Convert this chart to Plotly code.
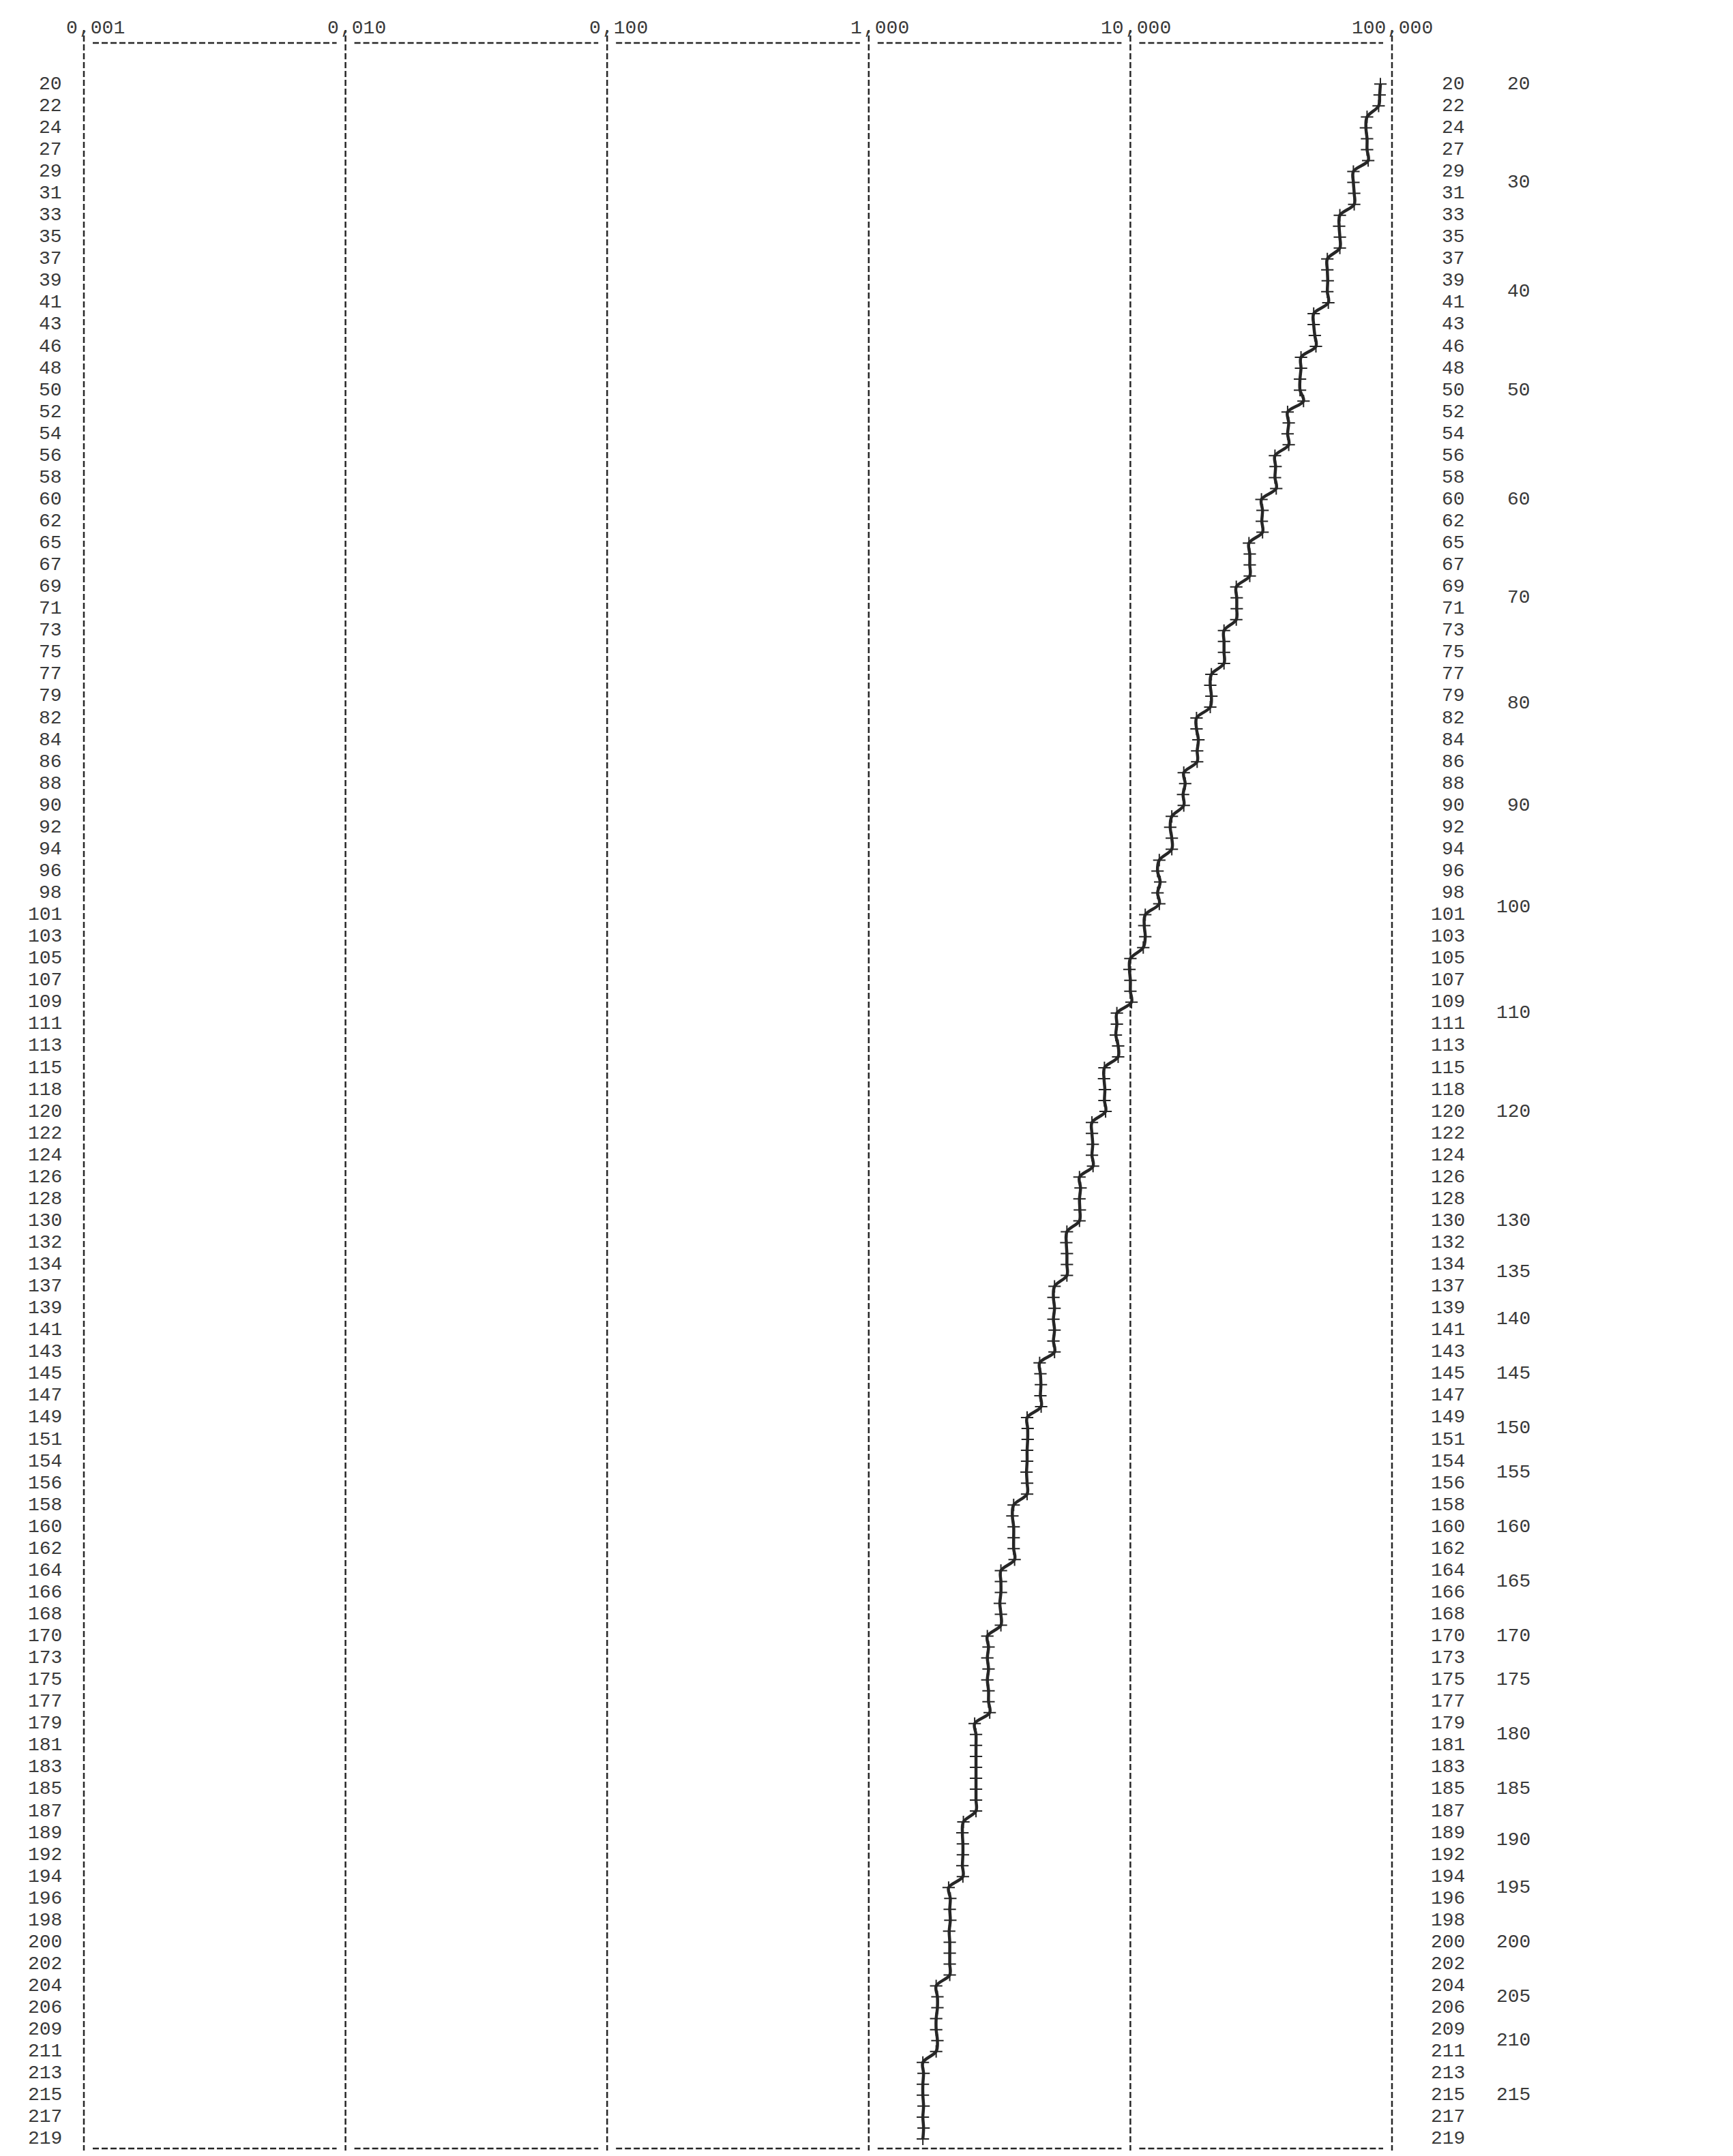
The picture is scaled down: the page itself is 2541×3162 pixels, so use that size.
import numpy as np
import plotly.graph_objects as go

# ---- data ----
row_labels = ["20","22","24","27","29","31","33","35","37","39","41","43","46","48","50",
              "52","54","56","58","60","62","65","67","69","71","73","75","77","79","82",
              "84","86","88","90","92","94","96","98","101","103","105","107","109","111",
              "113","115","118","120","122","124","126","128","130","132","134","137","139",
              "141","143","145","147","149","151","154","156","158","160","162","164","166",
              "168","170","173","175","177","179","181","183","185","187","189","192","194",
              "196","198","200","202","204","206","209","211","213","215","217","219"]

scale_labels = [20, 30, 40, 50, 60, 70, 80, 90, 100, 110, 120, 130, 135, 140, 145, 150,
                155, 160, 165, 170, 175, 180, 185, 190, 195, 200, 205, 210, 215]

x_ticks = [0.001, 0.01, 0.1, 1, 10, 100]
x_tick_left = ["0", "0", "0", "1", "10", "100"]
x_tick_right = [",001", ",010", ",100", ",000", ",000", ",000"]

values = [
    90.3, 89.7, 88.9, 80.3, 79.5, 80.3, 80.3, 81.1, 71.2, 71.2,
    71.7, 71.7, 63.2, 62.8, 63.2, 63.2, 56.6, 56.6, 56.8, 56.6,
    57.1, 50.2, 50.2, 50.7, 51.2, 44.9, 44.9, 44.5, 44.5, 45.9,
    39.9, 40.3, 39.9, 40.3, 35.7, 35.9, 35.7, 36.1, 31.7, 32.0,
    31.8, 32.0, 28.4, 28.6, 28.6, 28.6, 25.4, 25.5, 25.5, 25.4,
    22.8, 22.8, 22.8, 22.8, 20.4, 20.2, 20.4, 20.2, 17.9, 17.9,
    18.2, 18.0, 18.0, 16.0, 16.2, 15.9, 16.0, 14.4, 14.2, 14.4,
    14.4, 12.9, 12.7, 13.0, 12.7, 12.9, 11.4, 11.3, 11.4, 11.2,
    10.0, 9.92, 10.0, 10.0, 10.1, 8.88, 8.88, 8.80, 8.98, 8.98,
    7.96, 7.93, 7.99, 7.96, 8.04, 7.13, 7.13, 7.18, 7.13, 7.20,
    6.39, 6.45, 6.39, 6.41, 6.39, 5.72, 5.69, 5.72, 5.72, 5.72,
    5.13, 5.08, 5.13, 5.08, 5.13, 5.08, 5.13, 4.50, 4.53, 4.55,
    4.53, 4.56, 4.03, 4.05, 4.05, 4.03, 4.03, 4.01, 4.03, 4.03,
    3.58, 3.54, 3.58, 3.58, 3.58, 3.61, 3.20, 3.20, 3.20, 3.17,
    3.20, 3.20, 2.84, 2.87, 2.84, 2.87, 2.84, 2.87, 2.87, 2.90,
    2.54, 2.57, 2.57, 2.57, 2.57, 2.57, 2.57, 2.57, 2.57, 2.30,
    2.28, 2.29, 2.29, 2.28, 2.29, 2.02, 2.05, 2.04, 2.05, 2.03,
    2.04, 2.04, 2.04, 2.04, 1.81, 1.83, 1.83, 1.81, 1.81, 1.83,
    1.81, 1.61, 1.62, 1.61, 1.61, 1.62, 1.61, 1.62, 1.61,
]

# ---- layout constants (page body adds an 8px margin) ----
OFF = 8
W, H = 2541 - 2 * OFF, 3162 - 2 * OFF
ML, MT = 123 - OFF, 62 - OFF
PLOT_R = 2041 - OFF
PLOT_B = 3151 - OFF
MR, MB = W - PLOT_R, H - PLOT_B
PW = W - ML - MR
PH = H - MT - MB
FONT = "Liberation Mono, DejaVu Sans Mono, monospace"
FS = 28
TXT = "#3a3a3a"
INK = "#262626"

rows = list(range(len(values)))            # point positions (one per printed line)
label_pos = [2 * i for i in range(len(row_labels))]
label_vals = [float(s) for s in row_labels]

def xpaper(v):
    return (np.log10(v) + 3.0) / 5.0

def px_x(p):      # page pixel -> paper x
    return (p - OFF - ML) / PW

def dpx_x(d):
    return d / PW

def dpx_y(d):
    return d / PH

fig = go.Figure()
fig.add_trace(go.Scatter(
    x=values, y=rows, mode="lines+markers",
    line=dict(color=INK, width=4.5, shape="spline", smoothing=1.0),
    marker=dict(symbol="cross-thin", size=13, line=dict(width=2, color=INK)),
    showlegend=False, hoverinfo="skip",
))

shapes = []
dash = "9px,4px"
for v in x_ticks:
    xp = xpaper(v)
    shapes.append(dict(type="line", xref="paper", yref="paper",
                       x0=xp, x1=xp, y0=-dpx_y(MB + 1), y1=1 + dpx_y(18),
                       line=dict(color=INK, width=2.5, dash=dash)))
gap = dpx_x(13)
for a, b in zip(x_ticks[:-1], x_ticks[1:]):
    for yp in (1 - dpx_y(1), 0.0):
        shapes.append(dict(type="line", xref="paper", yref="paper",
                           x0=xpaper(a) + gap, x1=xpaper(b) - gap, y0=yp, y1=yp,
                           line=dict(color=INK, width=2.5, dash=dash)))

ann = []
half_char = dpx_x(0.6 * FS / 2)
for v, lt, rt in zip(x_ticks, x_tick_left, x_tick_right):
    xp = xpaper(v)
    for txt, anchor in ((lt, "right"), (rt, "left")):
        ann.append(dict(text=txt, xref="paper", yref="paper", x=xp - half_char,
                        y=1 + dpx_y(21), xanchor=anchor, yanchor="middle",
                        showarrow=False, font=dict(family=FONT, size=FS, color=TXT),
                        borderpad=0))

for pos, lab in zip(label_pos, row_labels):
    for xr in (92, 2149):
        ann.append(dict(text=lab, xref="paper", yref="y", x=px_x(xr), y=pos,
                        xanchor="right", yanchor="middle", showarrow=False, borderpad=0,
                        font=dict(family=FONT, size=FS, color=TXT)))

for v in scale_labels:
    pos = float(np.interp(v, label_vals, label_pos))
    ann.append(dict(text=str(v), xref="paper", yref="y", x=px_x(2245), y=pos,
                    xanchor="right", yanchor="middle", showarrow=False, borderpad=0,
                    font=dict(family=FONT, size=FS, color=TXT)))

pitch = 16.03
y_top = -(123.3 - 62) / pitch
y_bot = (3151 - 123.3) / pitch

fig.update_layout(
    width=W, height=H, autosize=False,
    margin=dict(l=ML, r=MR, t=MT, b=MB, pad=0),
    paper_bgcolor="white", plot_bgcolor="white",
    xaxis=dict(type="log", range=[-3, 2], visible=False),
    yaxis=dict(range=[y_bot, y_top], visible=False),
    shapes=shapes, annotations=ann,
)

fig.write_html("out.html")
